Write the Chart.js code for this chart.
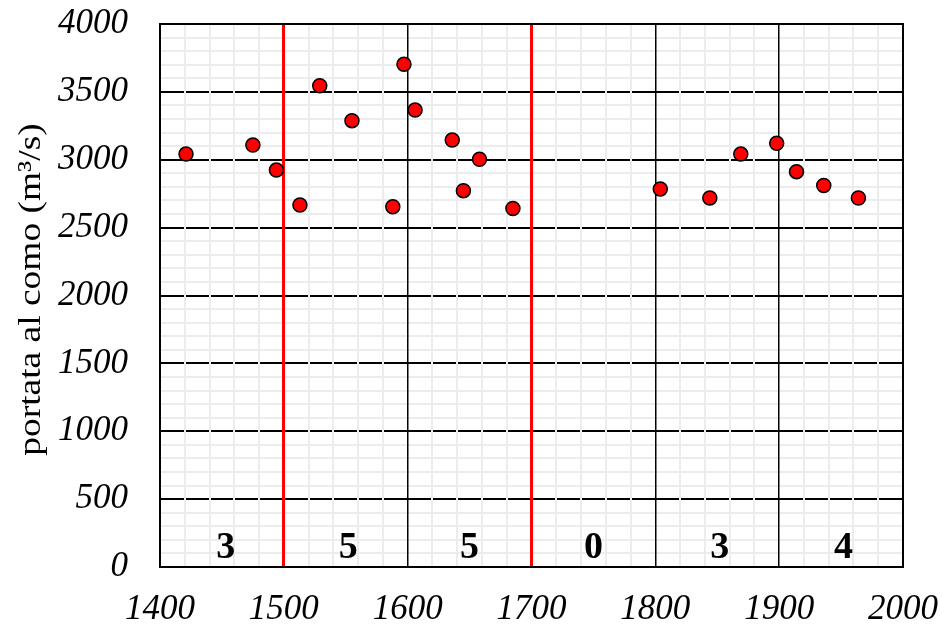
<!DOCTYPE html>
<html>
<head>
<meta charset="utf-8">
<script src="https://cdn.jsdelivr.net/npm/chart.js@4.4.1/dist/chart.umd.min.js"></script>
<style>
  html, body { margin: 0; padding: 0; background: #fff; }
  canvas { display: block; }
</style>
</head>
<body>
<canvas id="c" width="942" height="629"></canvas>
<script>
// ---- data ----
const years = [1421, 1475, 1494, 1513, 1529, 1555, 1588, 1597, 1606, 1636, 1645, 1658, 1685,
               1804, 1844, 1869, 1898, 1914, 1936, 1964];
const flows = [3042, 3108, 2924, 2666, 3545, 3288, 2654, 3703, 3366, 3145, 2772, 3003, 2641,
               2784, 2718, 3042, 3121, 2912, 2811, 2718];
const countLabels = ['3', '5', '5', '0', '3', '4'];
const countLabelYears = [1453, 1552, 1650, 1750, 1852, 1952];
const countLabelValue = 65;
const redLineYears = [1500, 1700];
const xMin = 1400, xMax = 2000, xMinorStep = 20, xMajorStep = 100;
const yMin = 0, yMax = 4000, yMinorStep = 100, yMajorStep = 500;
const yTitle = 'portata al como (m³/s)';

const points = years.map((y, i) => ({ x: y, y: flows[i] }));

function zeroPad(s) { s.paddingTop = 0; s.paddingBottom = 0; s.paddingLeft = 0; s.paddingRight = 0; }

const extras = {
  id: 'extras',
  beforeDatasetsDraw(chart) {
    const { ctx, chartArea: a } = chart;
    ctx.save();
    ctx.strokeStyle = '#000';
    ctx.lineWidth = 2;
    ctx.strokeRect(a.left, a.top, a.right - a.left, a.bottom - a.top);
    ctx.restore();
  },
  afterDatasetsDraw(chart) {
    const { ctx, chartArea: a, scales } = chart;
    ctx.save();
    ctx.fillStyle = '#000';
    ctx.font = 'bold 38px "Liberation Serif"';
    ctx.textAlign = 'center';
    ctx.textBaseline = 'alphabetic';
    countLabels.forEach((t, i) => {
      ctx.fillText(t, scales.x.getPixelForValue(countLabelYears[i]), scales.y.getPixelForValue(countLabelValue));
    });
    // y-axis title
    ctx.translate(40, (a.top + a.bottom) / 2 - 6);
    ctx.rotate(-Math.PI / 2);
    ctx.scale(1.17, 1);
    ctx.font = '32px "Liberation Serif"';
    ctx.textAlign = 'center';
    ctx.fillText(yTitle, 0, 0);
    ctx.restore();
  }
};

new Chart(document.getElementById('c'), {
  type: 'scatter',
  data: {
    datasets: [{
      data: points,
      pointRadius: 7,
      pointHoverRadius: 7,
      pointBackgroundColor: '#ff0000',
      pointBorderColor: '#000',
      pointBorderWidth: 1.5,
      showLine: false
    }]
  },
  options: {
    responsive: false,
    animation: false,
    layout: { padding: { top: 24, right: 39, left: 0, bottom: 0 } },
    plugins: { legend: { display: false }, tooltip: { enabled: false } },
    scales: {
      x: {
        type: 'linear',
        min: xMin, max: xMax,
        afterFit(s) { s.height = 62; zeroPad(s); },
        border: { display: false },
        grid: {
          z: -1,
          drawTicks: false,
          color(c) {
            const v = c.tick ? c.tick.value : null;
            if (redLineYears.includes(v)) return '#ff0000';
            if (v % xMajorStep === 0) return '#000';
            return '#ececec';
          },
          lineWidth(c) {
            const v = c.tick ? c.tick.value : null;
            if (redLineYears.includes(v)) return 3;
            if (v % xMajorStep === 0) return 1.5;
            return 2;
          }
        },
        ticks: {
          stepSize: xMinorStep,
          autoSkip: false,
          maxRotation: 0, minRotation: 0,
          padding: 22,
          color: '#000',
          font: { family: 'Liberation Serif', size: 35, style: 'italic' },
          callback(v) { return v % xMajorStep === 0 ? String(v) : ''; }
        }
      },
      y: {
        type: 'linear',
        min: yMin, max: yMax,
        afterFit(s) { s.width = 160; zeroPad(s); },
        border: { display: false },
        grid: {
          z: -2,
          drawTicks: false,
          color(c) {
            const v = c.tick ? c.tick.value : null;
            return v % yMajorStep === 0 ? '#000' : '#ececec';
          },
          lineWidth: 2
        },
        ticks: {
          stepSize: yMinorStep,
          autoSkip: false,
          padding: 32,
          color: '#000',
          font: { family: 'Liberation Serif', size: 35, style: 'italic' },
          callback(v) { return v % yMajorStep === 0 ? String(v) : ''; }
        }
      }
    }
  },
  plugins: [extras]
});
</script>
</body>
</html>
